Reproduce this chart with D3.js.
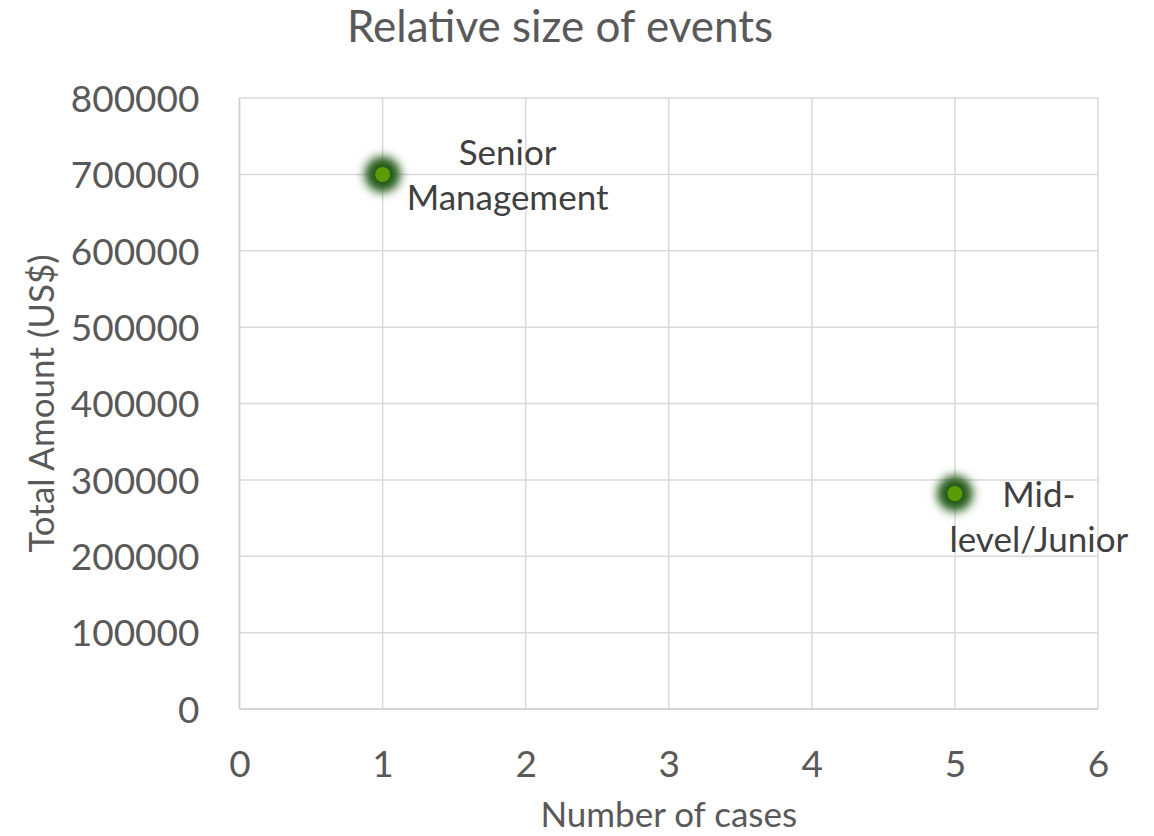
<!DOCTYPE html>
<html>
<head>
<meta charset="utf-8">
<script src="https://cdn.jsdelivr.net/npm/d3@7"></script>
<style>
  html, body { margin: 0; padding: 0; background: #fff; }
  svg { display: block; font-family: Lato, "Open Sans", sans-serif; }
</style>
</head>
<body>
<svg id="chart" width="1154" height="836"></svg>
<script>
// Events by seniority: number of cases vs total amount
const categories = ["Senior Management", "Mid-level/Junior"];
const labelLines = [["Senior", "Management"], ["Mid-", "level/Junior"]];
const cases = [1, 5];
const amounts = [700000, 282000];
const xTicks = [0, 1, 2, 3, 4, 5, 6];
const yTicks = [0, 100000, 200000, 300000, 400000, 500000, 600000, 700000, 800000];

(function () {
const svg = d3.select("#chart");
const plotLeft = 239.5, plotRight = 1098, plotTop = 98, plotBottom = 709;

const x = d3.scaleLinear().domain([0, 6]).range([plotLeft, plotRight]);
const y = d3.scaleLinear().domain([0, 800000]).range([plotBottom, plotTop]);

// soft halo filter for markers
const defs = svg.append("defs");
const f = defs.append("filter").attr("id", "glow")
  .attr("x", "-100%").attr("y", "-100%").attr("width", "300%").attr("height", "300%");
f.append("feGaussianBlur").attr("stdDeviation", 5);

// gridlines
const grid = svg.append("g");
grid.selectAll("line.h").data(yTicks).join("line")
  .attr("x1", plotLeft).attr("x2", plotRight)
  .attr("y1", d => y(d)).attr("y2", d => y(d))
  .attr("stroke", "#d9d9d9").attr("stroke-width", 1.5);
grid.selectAll("line.v").data(xTicks).join("line")
  .attr("y1", plotTop).attr("y2", plotBottom)
  .attr("x1", d => x(d)).attr("x2", d => x(d))
  .attr("stroke", "#d9d9d9").attr("stroke-width", 1.5);

// axes (ticks hidden, labels only)
const xAxis = svg.append("g").attr("transform", `translate(0,${plotBottom})`)
  .call(d3.axisBottom(x).tickValues(xTicks).tickSize(0).tickPadding(41).tickFormat(d3.format("d")));
const yAxis = svg.append("g").attr("transform", `translate(${plotLeft},0)`)
  .call(d3.axisLeft(y).tickValues(yTicks).tickSize(0).tickPadding(40).tickFormat(d3.format("d")));
[xAxis, yAxis].forEach(a => {
  a.select(".domain").remove();
  a.selectAll("text").attr("fill", "#595959").style("font-size", "37px")
    .style("font-family", "Lato, sans-serif");
});
yAxis.selectAll("text").attr("dy", "0.36em");
xAxis.selectAll("text").attr("dy", "0.72em");

// bottom and left axis lines
svg.append("line").attr("x1", plotLeft).attr("x2", plotRight).attr("y1", plotBottom).attr("y2", plotBottom)
  .attr("stroke", "#d0d0d0").attr("stroke-width", 1.5);
svg.append("line").attr("x1", plotLeft).attr("x2", plotLeft).attr("y1", plotTop).attr("y2", plotBottom)
  .attr("stroke", "#d0d0d0").attr("stroke-width", 1.5);

// title and axis titles
svg.append("text").attr("x", 560).attr("y", 42).attr("text-anchor", "middle")
  .attr("fill", "#595959").style("font-size", "44px").text("Relative size of events");
svg.append("text").attr("x", (plotLeft + plotRight) / 2).attr("y", 827).attr("text-anchor", "middle")
  .attr("fill", "#595959").style("font-size", "35px").text("Number of cases");
svg.append("text").attr("transform", `translate(54,${(plotTop + plotBottom) / 2}) rotate(-90)`)
  .attr("text-anchor", "middle").attr("fill", "#595959").style("font-size", "35px")
  .text("Total Amount (US$)");

// points
const data = categories.map((c, i) => ({ c, lines: labelLines[i], x: cases[i], y: amounts[i] }));
const pts = svg.append("g");
pts.selectAll("circle.glow").data(data).join("circle")
  .attr("class", "glow")
  .attr("cx", d => x(d.x)).attr("cy", d => y(d.y)).attr("r", 18)
  .attr("fill", "#235a12").attr("filter", "url(#glow)");
pts.selectAll("circle.dot").data(data).join("circle")
  .attr("class", "dot")
  .attr("cx", d => x(d.x)).attr("cy", d => y(d.y)).attr("r", 7.5)
  .attr("fill", "#5b9b06");

// data labels
const labelOffsets = [{ dx: 125, dy: [-9, 36] }, { dx: 84, dy: [13.5, 58.5] }];
const labels = svg.append("g");
data.forEach((d, i) => {
  const o = labelOffsets[i];
  d.lines.forEach((ln, j) => {
    labels.append("text")
      .attr("x", x(d.x) + o.dx).attr("y", y(d.y) + o.dy[j])
      .attr("text-anchor", "middle").attr("fill", "#404040")
      .style("font-size", "35px").text(ln);
  });
});
})();
</script>
</body>
</html>
